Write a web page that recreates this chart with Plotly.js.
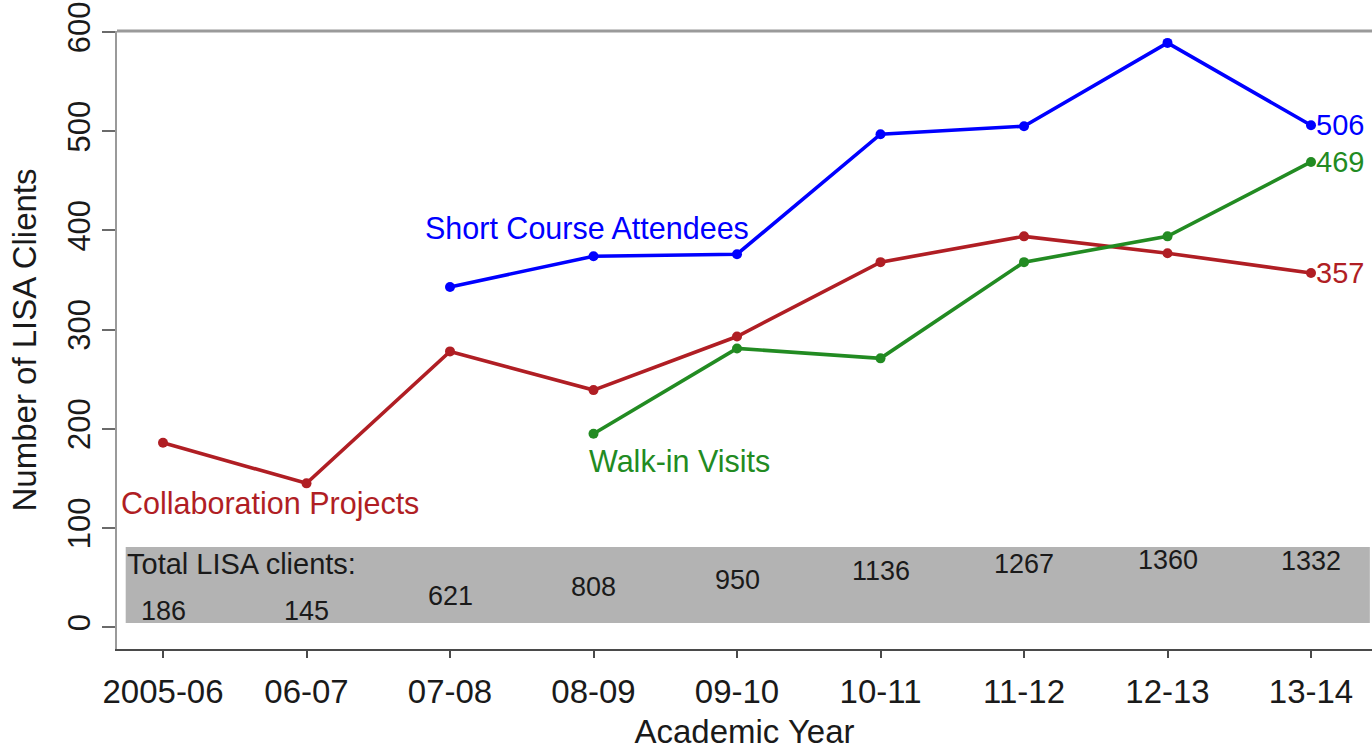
<!DOCTYPE html>
<html>
<head>
<meta charset="utf-8">
<script src="https://cdn.plot.ly/plotly-3.0.1.min.js"></script>
<style>html,body{margin:0;padding:0;background:#fff;}#chart{width:1372px;height:750px;}</style>
</head>
<body>
<div id="chart"></div>
<script>
var years = ["2005-06","06-07","07-08","08-09","09-10","10-11","11-12","12-13","13-14"];
var collaboration = [186,145,278,239,293,368,394,377,357];
var shortCourse = [null,null,343,374,376,497,505,589,506];
var walkIn = [null,null,null,195,281,271,368,394,469];
var totals = [186,145,621,808,950,1136,1267,1360,1332];

var idx = years.map(function(_, i){ return i; });
var FONT = "Liberation Sans, Arial, Helvetica, sans-serif";
var RED = "#B01E24", BLUE = "#0000FF", GREEN = "#228B22";

function series(vals, color, name){
  var xs = [], ys = [];
  vals.forEach(function(v, i){ if (v !== null){ xs.push(i); ys.push(v); } });
  return {x: xs, y: ys, type: "scatter", mode: "lines+markers", name: name,
          line: {color: color, width: 3.6}, marker: {color: color, size: 10},
          hoverinfo: "x+y"};
}

var traces = [
  series(collaboration, RED, "Collaboration Projects"),
  series(shortCourse, BLUE, "Short Course Attendees"),
  series(walkIn, GREEN, "Walk-in Visits")
];

var annotations = [];
totals.forEach(function(t, i){
  annotations.push({x: i, y: Math.max(t / 20, 16), xref: "x", yref: "y", text: String(t),
    showarrow: false, font: {family: FONT, size: 27, color: "#1a1a1a"}, xanchor: "center", yanchor: "middle"});
});
annotations.push({x: -0.262, y: 64, xref: "x", yref: "y", text: "Total LISA clients:", showarrow: false,
  xanchor: "left", yanchor: "middle", font: {family: FONT, size: 29, color: "#1a1a1a"}});
annotations.push({x: 2.955, y: 402, xref: "x", yref: "y", text: "Short Course Attendees", showarrow: false,
  xanchor: "center", yanchor: "middle", font: {family: FONT, size: 30.5, color: BLUE}});
annotations.push({x: 3.6, y: 168, xref: "x", yref: "y", text: "Walk-in Visits", showarrow: false,
  xanchor: "center", yanchor: "middle", font: {family: FONT, size: 30.5, color: GREEN}});
annotations.push({x: 0.746, y: 125, xref: "x", yref: "y", text: "Collaboration Projects", showarrow: false,
  xanchor: "center", yanchor: "middle", font: {family: FONT, size: 30.5, color: RED}});
var last = years.length - 1;
[[shortCourse, BLUE], [walkIn, GREEN], [collaboration, RED]].forEach(function(p){
  annotations.push({x: last, y: p[0][last], xref: "x", yref: "y", text: String(p[0][last]), showarrow: false,
    xanchor: "left", yanchor: "middle", xshift: 3, font: {family: FONT, size: 29, color: p[1]}});
});

var layout = {
  width: 1372, height: 750,
  margin: {l: 117, r: 0, t: 31, b: 101},
  paper_bgcolor: "#ffffff", plot_bgcolor: "#ffffff",
  showlegend: false,
  font: {family: FONT, color: "#1a1a1a"},
  xaxis: {
    range: [-0.3206, 8.425], tickvals: idx, ticktext: years,
    showgrid: false, zeroline: false,
    showline: true, linecolor: "#4a4a4a", linewidth: 2,
    ticks: "outside", ticklen: 7, tickwidth: 2, tickcolor: "#4a4a4a",
    ticklabelstandoff: 5,
    tickfont: {family: FONT, size: 33, color: "#1a1a1a"},
    title: {text: "Academic Year", font: {family: FONT, size: 33, color: "#1a1a1a"}, standoff: 18}
  },
  yaxis: {
    range: [-22, 601], tickvals: [0,100,200,300,400,500,600],
    showgrid: false, zeroline: false,
    showline: true, linecolor: "#9a9a9a", linewidth: 2,
    ticks: "outside", ticklen: 13, tickwidth: 2, tickcolor: "#6a6a6a",
    tickangle: -90,
    tickfont: {family: FONT, size: 31, color: "#1a1a1a"},
    title: {text: "Number of LISA Clients", font: {family: FONT, size: 33, color: "#1a1a1a"}, standoff: 15}
  },
  shapes: [
    {type: "rect", xref: "x", yref: "y", x0: -0.26, x1: 8.41, y0: 4.2, y1: 80.8,
     fillcolor: "#B3B3B3", line: {width: 0}, layer: "below"},
    {type: "line", xref: "paper", yref: "paper", x0: 0, x1: 1, y0: 1, y1: 1,
     line: {color: "#9a9a9a", width: 3}}
  ],
  annotations: annotations
};

Plotly.newPlot("chart", traces, layout, {displayModeBar: false, staticPlot: true});
</script>
</body>
</html>
